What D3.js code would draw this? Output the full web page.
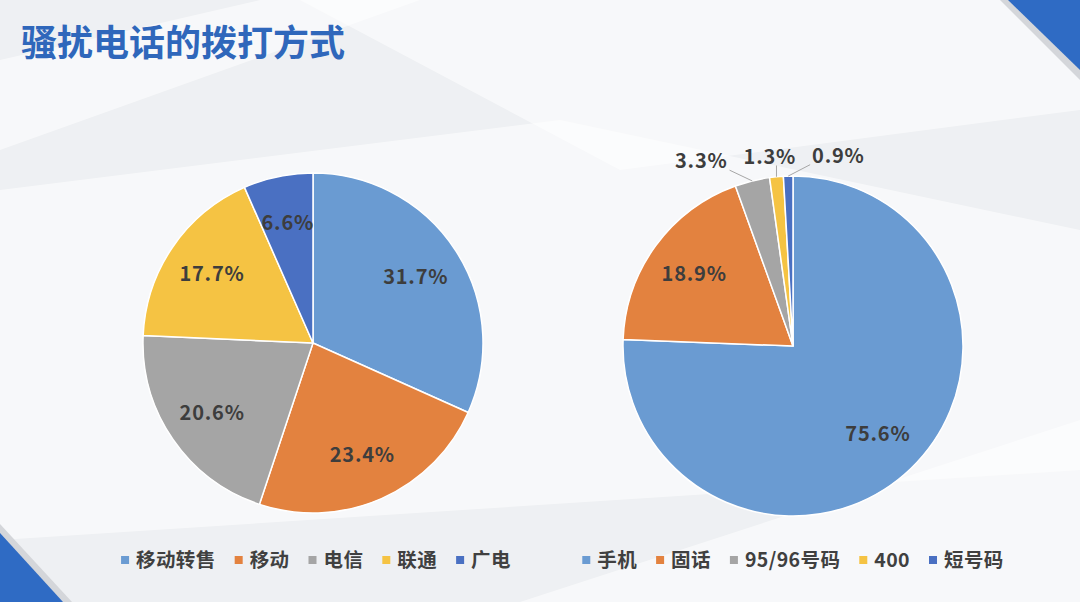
<!DOCTYPE html>
<html>
<head>
<meta charset="utf-8">
<script src="https://cdn.jsdelivr.net/npm/d3@7/dist/d3.min.js"></script>
<style>
body{margin:0;background:#fff;}
svg{display:block;font-family:"Noto Sans CJK SC","Noto Sans",sans-serif;}
</style>
</head>
<body>
<svg id="chart" width="1080" height="602"></svg>
<script>
var title = "骚扰电话的拨打方式";
var leftNames = ["移动转售", "移动", "电信", "联通", "广电"];
var leftValues = [31.7, 23.4, 20.6, 17.7, 6.6];
var rightNames = ["手机", "固话", "95/96号码", "400", "短号码"];
var rightValues = [75.6, 18.9, 3.3, 1.3, 0.9];
var sliceColors = ["#6a9bd2", "#e3823f", "#a5a5a5", "#f5c343", "#4a70c2"];

var W = 1080, H = 602;
var svg = d3.select("#chart");

// background
svg.append("rect").attr("width", W).attr("height", H).attr("fill", "#eef0f3");
var bgShapes = [
	[[0,190],[560,120],[1080,230],[1080,470],[0,540]],
	[[300,0],[1080,0],[1080,110],[620,170]],
	[[520,602],[1080,420],[1080,602]],
	[[0,60],[260,0],[420,0],[0,150]]
];
svg.selectAll("polygon.bg").data(bgShapes).enter().append("polygon")
	.attr("class", "bg")
	.attr("points", function(d){ return d.join(" "); })
	.attr("fill", "#ffffff").attr("opacity", 0.55);

// corner triangles
svg.append("polygon").attr("points", "1000,0 1080,0 1080,80").attr("fill", "#d4d6da");
svg.append("polygon").attr("points", "1008,0 1080,0 1080,70").attr("fill", "#2f6bc4");
svg.append("polygon").attr("points", "0,524 72,602 0,602").attr("fill", "#d4d6da");
svg.append("polygon").attr("points", "0,533 63,602 0,602").attr("fill", "#2f6bc4");

svg.append("text").attr("x", 21).attr("y", 56)
	.attr("font-size", 36).attr("font-weight", "bold")
	.attr("fill", "#2f67bb").text(title);

function drawPie(names, values, cx, cy, r) {
	var g = svg.append("g").attr("transform", "translate(" + cx + "," + cy + ")");
	var pie = d3.pie().sort(null).value(function(d){ return d; });
	var arcs = pie(values);
	var arc = d3.arc().innerRadius(0).outerRadius(r);
	var labelArc = d3.arc().innerRadius(r * 0.72).outerRadius(r * 0.72);

	g.selectAll("path").data(arcs).enter().append("path")
		.attr("d", arc)
		.attr("fill", function(d, i){ return sliceColors[i]; })
		.attr("stroke", "#ffffff").attr("stroke-width", 1.5);

	var inside = arcs.filter(function(d){ return d.data >= 5; });
	var outside = arcs.filter(function(d){ return d.data < 5; });

	g.selectAll("text.in").data(inside).enter().append("text")
		.attr("class", "in")
		.attr("transform", function(d){ return "translate(" + labelArc.centroid(d) + ")"; })
		.attr("text-anchor", "middle").attr("dy", "0.36em")
		.attr("font-size", 20).attr("font-weight", "bold").attr("letter-spacing", 0.8)
		.attr("fill", "#3d3d3d")
		.text(function(d){ return d.data.toFixed(1) + "%"; });

	// outside labels, spread apart so they do not overlap
	var outR = r * 1.12;
	var labs = outside.map(function(d){
		var a = (d.startAngle + d.endAngle) / 2;
		return {d: d, a: a, x: Math.sin(a) * outR, y: -Math.cos(a) * outR,
			ex: Math.sin(a) * r, ey: -Math.cos(a) * r};
	});
	var texts = g.selectAll("text.out").data(labs).enter().append("text")
		.attr("class", "out")
		.attr("text-anchor", "middle").attr("dy", "0.36em")
		.attr("font-size", 20).attr("font-weight", "bold").attr("letter-spacing", 0.8)
		.attr("fill", "#3d3d3d")
		.text(function(d){ return d.d.data.toFixed(1) + "%"; });
	texts.each(function(d){ d.w = this.getComputedTextLength(); });
	labs.sort(function(a, b){ return a.x - b.x; });
	for (var it = 0; it < 100; it++) {
		for (var i = 1; i < labs.length; i++) {
			var need = (labs[i-1].w + labs[i].w) / 2 + 16;
			var gap = labs[i].x - labs[i-1].x;
			if (gap < need) {
				var push = (need - gap) / 2;
				labs[i-1].x -= push;
				labs[i].x += push;
			}
		}
	}
	texts.attr("x", function(d){ return d.x; }).attr("y", function(d){ return d.y; });
	g.selectAll("polyline.lead").data(labs).enter().append("polyline")
		.attr("class", "lead")
		.attr("fill", "none").attr("stroke", "#a6a6a6").attr("stroke-width", 1)
		.attr("points", function(d){
			var half = d.w / 2 + 2;
			var lx = Math.max(d.x - half, Math.min(d.x + half, d.ex));
			var ly = d.y + 9;
			return [[lx, ly], [d.ex, d.ey]].join(" ");
		});
}

function drawLegend(names, cx, cy) {
	var g = svg.append("g");
	var x = 0;
	names.forEach(function(n, i){
		var it = g.append("g");
		it.append("rect").attr("x", 0).attr("y", -4).attr("width", 8).attr("height", 8)
			.attr("fill", sliceColors[i]);
		var t = it.append("text").attr("x", 15).attr("dy", "0.36em")
			.attr("font-size", 19.5).attr("font-weight", "bold").attr("letter-spacing", 0.4)
			.attr("fill", "#404040").text(n);
		var w = 15 + t.node().getComputedTextLength();
		it.attr("transform", "translate(" + x + ",0)");
		x += w + 19;
	});
	var total = x - 19;
	g.attr("transform", "translate(" + (cx - total / 2) + "," + cy + ")");
}

drawPie(leftNames, leftValues, 313, 343, 170);
drawPie(rightNames, rightValues, 793, 346, 170);
drawLegend(leftNames, 316, 560);
drawLegend(rightNames, 793, 560);
</script>
</body>
</html>
